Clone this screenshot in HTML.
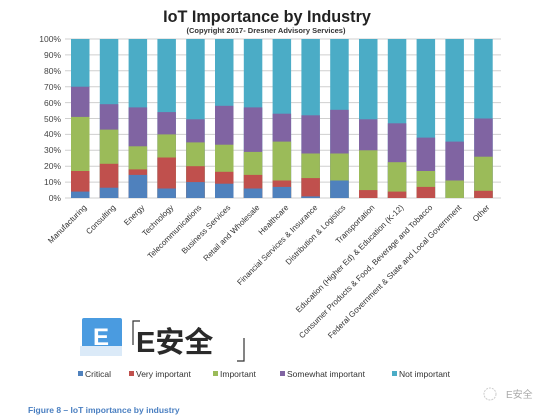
<!DOCTYPE html>
<html><head><meta charset="utf-8"><style>
html,body{margin:0;padding:0;background:#fff;width:554px;height:420px;overflow:hidden}
svg{display:block}
text{font-family:"Liberation Sans","Noto Sans CJK SC",sans-serif}
</style></head><body>
<svg width="554" height="420" viewBox="0 0 554 420" xmlns="http://www.w3.org/2000/svg">
<text x="267" y="22" text-anchor="middle" font-size="16.2" font-weight="bold" fill="#222">IoT Importance by Industry</text>
<text x="266" y="33" text-anchor="middle" font-size="7.5" font-weight="bold" fill="#333">(Copyright 2017- Dresner Advisory Services)</text>
<g stroke="#cfcfcf" stroke-width="1">
<line x1="65" y1="39" x2="501" y2="39"/><line x1="65" y1="54.9" x2="501" y2="54.9"/><line x1="65" y1="70.8" x2="501" y2="70.8"/><line x1="65" y1="86.7" x2="501" y2="86.7"/><line x1="65" y1="102.6" x2="501" y2="102.6"/><line x1="65" y1="118.5" x2="501" y2="118.5"/><line x1="65" y1="134.4" x2="501" y2="134.4"/><line x1="65" y1="150.3" x2="501" y2="150.3"/><line x1="65" y1="166.2" x2="501" y2="166.2"/><line x1="65" y1="182.1" x2="501" y2="182.1"/><line x1="65" y1="198" x2="501" y2="198"/>
</g>
<g font-size="8.5" fill="#444" text-anchor="end">
<text x="61" y="42">100%</text><text x="61" y="58">90%</text><text x="61" y="74">80%</text><text x="61" y="90">70%</text><text x="61" y="106">60%</text><text x="61" y="122">50%</text><text x="61" y="137">40%</text><text x="61" y="153">30%</text><text x="61" y="169">20%</text><text x="61" y="185">10%</text><text x="61" y="201">0%</text>
</g>
<g id="bars">
<g fill="#4bacc6">
<rect x="71" y="39" width="18.5" height="159"/><rect x="99.8" y="39" width="18.5" height="159"/><rect x="128.6" y="39" width="18.5" height="159"/><rect x="157.4" y="39" width="18.5" height="159"/><rect x="186.2" y="39" width="18.5" height="159"/><rect x="215" y="39" width="18.5" height="159"/><rect x="243.8" y="39" width="18.5" height="159"/><rect x="272.6" y="39" width="18.5" height="159"/><rect x="301.4" y="39" width="18.5" height="159"/><rect x="330.2" y="39" width="18.5" height="159"/><rect x="359" y="39" width="18.5" height="159"/><rect x="387.8" y="39" width="18.5" height="159"/><rect x="416.6" y="39" width="18.5" height="159"/><rect x="445.4" y="39" width="18.5" height="159"/><rect x="474.2" y="39" width="18.5" height="159"/>
</g>
<g fill="#8064a2">
<rect x="71" y="86.7" width="18.5" height="111.3"/><rect x="99.8" y="104.2" width="18.5" height="93.8"/><rect x="128.6" y="107.4" width="18.5" height="90.6"/><rect x="157.4" y="112.1" width="18.5" height="85.9"/><rect x="186.2" y="119.3" width="18.5" height="78.7"/><rect x="215" y="105.8" width="18.5" height="92.2"/><rect x="243.8" y="107.4" width="18.5" height="90.6"/><rect x="272.6" y="113.7" width="18.5" height="84.3"/><rect x="301.4" y="115.3" width="18.5" height="82.7"/><rect x="330.2" y="109.8" width="18.5" height="88.2"/><rect x="359" y="119.3" width="18.5" height="78.7"/><rect x="387.8" y="123.3" width="18.5" height="74.7"/><rect x="416.6" y="137.6" width="18.5" height="60.4"/><rect x="445.4" y="141.6" width="18.5" height="56.4"/><rect x="474.2" y="118.5" width="18.5" height="79.5"/>
</g>
<g fill="#9bbb59">
<rect x="71" y="116.9" width="18.5" height="81.1"/><rect x="99.8" y="129.6" width="18.5" height="68.4"/><rect x="128.6" y="146.3" width="18.5" height="51.7"/><rect x="157.4" y="134.4" width="18.5" height="63.6"/><rect x="186.2" y="142.4" width="18.5" height="55.6"/><rect x="215" y="144.7" width="18.5" height="53.3"/><rect x="243.8" y="151.9" width="18.5" height="46.1"/><rect x="272.6" y="141.6" width="18.5" height="56.4"/><rect x="301.4" y="153.5" width="18.5" height="44.5"/><rect x="330.2" y="153.5" width="18.5" height="44.5"/><rect x="359" y="150.3" width="18.5" height="47.7"/><rect x="387.8" y="162.2" width="18.5" height="35.8"/><rect x="416.6" y="171" width="18.5" height="27"/><rect x="445.4" y="180.5" width="18.5" height="17.5"/><rect x="474.2" y="156.7" width="18.5" height="41.3"/>
</g>
<g fill="#c0504d">
<rect x="71" y="171" width="18.5" height="27"/><rect x="99.8" y="163.8" width="18.5" height="34.2"/><rect x="128.6" y="169.4" width="18.5" height="28.6"/><rect x="157.4" y="157.5" width="18.5" height="40.5"/><rect x="186.2" y="166.2" width="18.5" height="31.8"/><rect x="215" y="171.8" width="18.5" height="26.2"/><rect x="243.8" y="174.9" width="18.5" height="23.1"/><rect x="272.6" y="180.5" width="18.5" height="17.5"/><rect x="301.4" y="178.1" width="18.5" height="19.9"/><rect x="359" y="190.1" width="18.5" height="7.9"/><rect x="387.8" y="191.6" width="18.5" height="6.4"/><rect x="416.6" y="186.9" width="18.5" height="11.1"/><rect x="474.2" y="190.8" width="18.5" height="7.2"/>
</g>
<g fill="#4f81bd">
<rect x="71" y="191.6" width="18.5" height="6.4"/><rect x="99.8" y="187.7" width="18.5" height="10.3"/><rect x="128.6" y="174.9" width="18.5" height="23.1"/><rect x="157.4" y="188.5" width="18.5" height="9.5"/><rect x="186.2" y="182.1" width="18.5" height="15.9"/><rect x="215" y="183.7" width="18.5" height="14.3"/><rect x="243.8" y="188.5" width="18.5" height="9.5"/><rect x="272.6" y="186.9" width="18.5" height="11.1"/><rect x="301.4" y="196.4" width="18.5" height="1.6"/><rect x="330.2" y="180.5" width="18.5" height="17.5"/>
</g>
</g>
<g font-size="8" fill="#333" text-anchor="end">
<text transform="translate(87,208) rotate(-45)">Manufacturing</text>
<text transform="translate(116,208) rotate(-45)">Consulting</text>
<text transform="translate(145,208) rotate(-45)">Energy</text>
<text transform="translate(174,208) rotate(-45)">Technology</text>
<text transform="translate(202,208) rotate(-45)">Telecommunications</text>
<text transform="translate(231,208) rotate(-45)">Business Services</text>
<text transform="translate(260,208) rotate(-45)">Retail and Wholesale</text>
<text transform="translate(289,208) rotate(-45)">Healthcare</text>
<text transform="translate(318,208) rotate(-45)">Financial Services &amp; Insurance</text>
<text transform="translate(346,208) rotate(-45)">Distribution &amp; Logistics</text>
<text transform="translate(375,208) rotate(-45)">Transportation</text>
<text transform="translate(404,208) rotate(-45)">Education (Higher Ed) &amp; Education (K-12)</text>
<text transform="translate(433,208) rotate(-45)">Consumer Products &amp; Food, Beverage and Tobacco</text>
<text transform="translate(462,208) rotate(-45)">Federal Government &amp; State and Local Government</text>
<text transform="translate(490,208) rotate(-45)">Other</text>
</g>
<path d="M82 318 h38 a2 2 0 0 1 2 2 v28 h-12 l-6 6 l-6 -6 h-14 a2 2 0 0 1 -2 -2 v-26 a2 2 0 0 1 2 -2z" fill="#4a9be0"/>
<rect x="80" y="346" width="42" height="10" fill="#dbeaf8"/>
<text x="101" y="345" text-anchor="middle" font-size="24" font-weight="bold" fill="#fff">E</text>
<path d="M133 345 V321 H140" fill="none" stroke="#333" stroke-width="1.2"/>
<path d="M244 338 V361 H237" fill="none" stroke="#333" stroke-width="1.2"/>
<text x="136" y="352" font-size="29" font-weight="bold" fill="#2a2a2a">E安全</text>
<g font-size="8.5" fill="#333">
<rect x="78" y="371" width="5" height="5" fill="#4f81bd"/><text x="85" y="377">Critical</text>
<rect x="129" y="371" width="5" height="5" fill="#c0504d"/><text x="136" y="377">Very important</text>
<rect x="213" y="371" width="5" height="5" fill="#9bbb59"/><text x="220" y="377">Important</text>
<rect x="280" y="371" width="5" height="5" fill="#8064a2"/><text x="287" y="377">Somewhat important</text>
<rect x="392" y="371" width="5" height="5" fill="#4bacc6"/><text x="399" y="377">Not important</text>
</g>
<circle cx="490" cy="394" r="6" fill="none" stroke="#ccc" stroke-width="1" stroke-dasharray="2 1"/>
<text x="506" y="398" font-size="10" fill="#aaa">E安全</text>
<text x="28" y="413" font-size="8.5" font-weight="bold" fill="#4a7fc1">Figure 8 – IoT importance by industry</text>
</svg>
</body></html>
